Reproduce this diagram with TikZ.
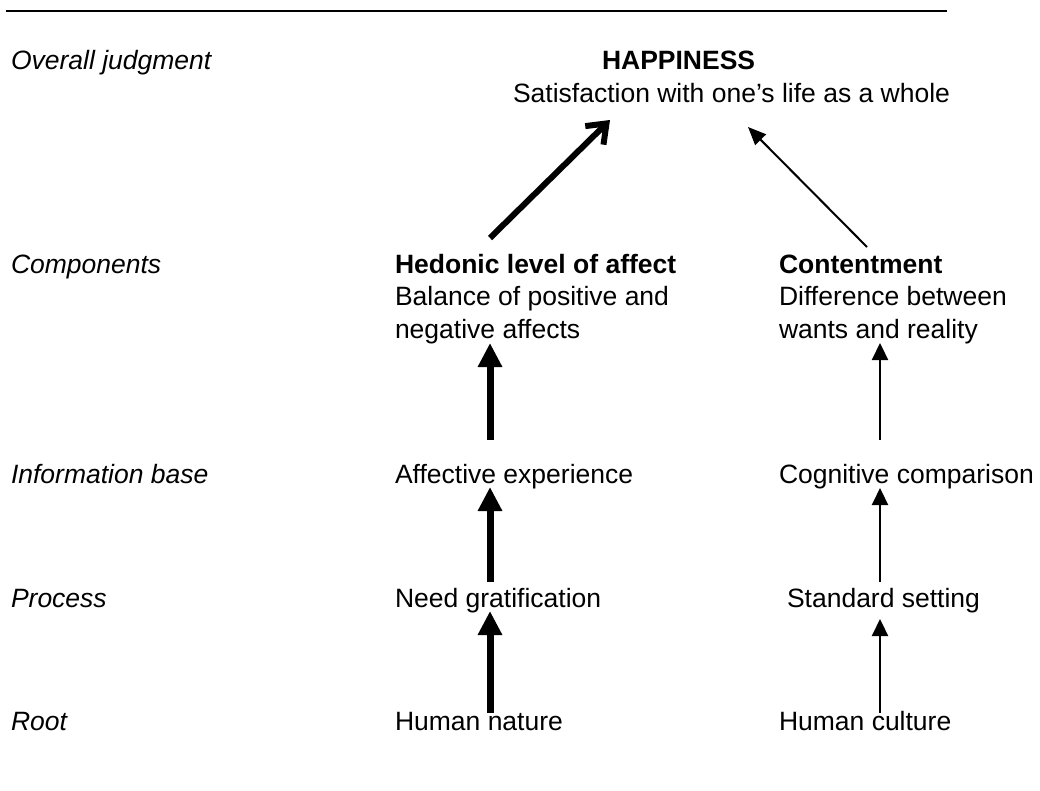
\documentclass[tikz,border=0pt]{standalone}
\usepackage{fontspec}
\setmainfont{Liberation Sans}
\usetikzlibrary{arrows.meta}
\tikzset{
  txt/.style={anchor=base west, inner sep=0pt, outer sep=0pt, font=\fontsize{26.5}{32}\selectfont},
  lab/.style={txt, font=\fontsize{26.5}{32}\selectfont\itshape},
  ttl/.style={txt, font=\fontsize{26.5}{32}\selectfont\bfseries},
  thick arrow/.style={line width=7pt, -{Triangle[length=24pt,width=23pt]}},
  thin arrow/.style={line width=2.2pt, -{Triangle[length=17pt,width=16pt]}},
  diag thick/.style={line width=6pt, line cap=butt, -{Straight Barb[length=17pt,width=26pt,line width=6pt]}},
  diag thin/.style={line width=2pt, -{Triangle[length=18pt,width=15pt]}},
}
\begin{document}
\begin{tikzpicture}[x=1pt,y=-1pt]
\useasboundingbox (0,0) rectangle (1040,791);
% top rule
\coordinate (ruleL) at (6,11);
\coordinate (ruleR) at (947,11);
\draw[line width=2pt] (ruleL) -- (ruleR);
% left labels
\node[lab] (l1) at (11,70) {Overall judgment};
\node[lab] (l2) at (11,273) {Components};
\node[lab] (l3) at (11,483) {Information base};
\node[lab] (l4) at (11,607) {Process};
\node[lab] (l5) at (11,730) {Root};
% top
\node[ttl] (hap) at (602,70) {HAPPINESS};
\node[txt] (sat) at (513,103) {Satisfaction with one’s life as a whole};
% hedonic column
\node[ttl] (hed) at (395,273) {Hedonic level of affect};
\node[txt] (hed2) at (395,305.5) {Balance of positive and};
\node[txt] (hed3) at (395,338) {negative affects};
\node[txt] (aff) at (395,483) {Affective experience};
\node[txt] (need) at (395,607) {Need gratification};
\node[txt] (nat) at (395,730) {Human nature};
% contentment column
\node[ttl] (con) at (779,273) {Contentment};
\node[txt] (con2) at (779,305.5) {Difference between};
\node[txt] (con3) at (779,338) {wants and reality};
\node[txt] (cog) at (779,483) {Cognitive comparison};
\node[txt] (std) at (787,607) {Standard setting};
\node[txt] (cul) at (779,730) {Human culture};
% arrow end points
\coordinate (dTa) at (490,238);
\coordinate (dTb) at (610,120);
\coordinate (dNa) at (867,247);
\coordinate (dNb) at (748,127);
\coordinate (a1s) at (490,440); \coordinate (a1e) at (490,343);
\coordinate (a2s) at (490,582); \coordinate (a2e) at (490,487);
\coordinate (a3s) at (490,713); \coordinate (a3e) at (490,611);
\coordinate (b1s) at (880,440); \coordinate (b1e) at (880,343);
\coordinate (b2s) at (880,582); \coordinate (b2e) at (880,488);
\coordinate (b3s) at (880,713); \coordinate (b3e) at (880,619);
% arrows
\draw[diag thick] (dTa) -- (dTb);
\draw[diag thin] (dNa) -- (dNb);
\draw[thick arrow] (a1s) -- (a1e);
\draw[thick arrow] (a2s) -- (a2e);
\draw[thick arrow] (a3s) -- (a3e);
\draw[thin arrow] (b1s) -- (b1e);
\draw[thin arrow] (b2s) -- (b2e);
\draw[thin arrow] (b3s) -- (b3e);
\end{tikzpicture}
\end{document}
